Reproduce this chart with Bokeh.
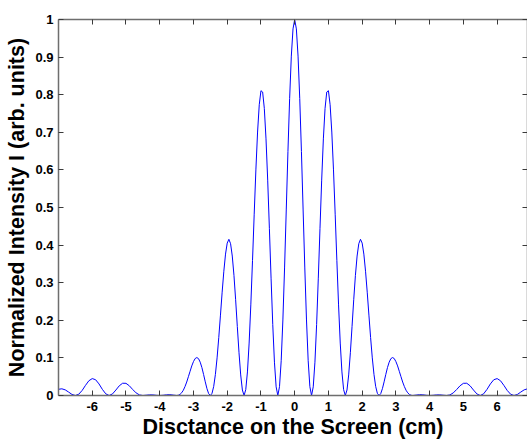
from bokeh.plotting import figure
from bokeh.models import Range1d, FixedTicker, LinearAxis, CustomLabelingPolicy
from bokeh.embed import file_html
from bokeh.resources import INLINE

# Distance on the screen (cm)
distance_cm = [
    -7.0, -6.9, -6.8, -6.7, -6.6, -6.5, -6.4, -6.3, -6.2, -6.1,
    -6.0, -5.9, -5.8, -5.7, -5.6, -5.5, -5.4, -5.3, -5.2, -5.1,
    -5.0, -4.9, -4.8, -4.7, -4.6, -4.5, -4.4, -4.3, -4.2, -4.1,
    -4.0, -3.9, -3.8, -3.7, -3.6,
    -3.5, -3.45, -3.4, -3.35, -3.3, -3.25, -3.2, -3.15, -3.1, -3.05,
    -3.0, -2.95, -2.9, -2.85, -2.8, -2.75, -2.7, -2.65, -2.6, -2.55,
    -2.5, -2.45, -2.4, -2.35, -2.3, -2.25, -2.2, -2.15, -2.1, -2.05,
    -2.0, -1.95, -1.9, -1.85, -1.8, -1.75, -1.7, -1.65, -1.6, -1.55,
    -1.5, -1.45, -1.4, -1.35, -1.3, -1.25, -1.2, -1.15, -1.1, -1.05,
    -1.0, -0.95, -0.9, -0.85, -0.8, -0.75, -0.7, -0.65, -0.6, -0.55,
    -0.5, -0.45, -0.4, -0.35, -0.3, -0.25, -0.2, -0.15, -0.1, -0.05,
    0.0, 0.05, 0.1, 0.15, 0.2, 0.25, 0.3, 0.35, 0.4, 0.45,
    0.5, 0.55, 0.6, 0.65, 0.7, 0.75, 0.8, 0.85, 0.9, 0.95,
    1.0, 1.05, 1.1, 1.15, 1.2, 1.25, 1.3, 1.35, 1.4, 1.45,
    1.5, 1.55, 1.6, 1.65, 1.7, 1.75, 1.8, 1.85, 1.9, 1.95,
    2.0, 2.05, 2.1, 2.15, 2.2, 2.25, 2.3, 2.35, 2.4, 2.45,
    2.5, 2.55, 2.6, 2.65, 2.7, 2.75, 2.8, 2.85, 2.9, 2.95,
    3.0, 3.05, 3.1, 3.15, 3.2, 3.25, 3.3, 3.35, 3.4, 3.45,
    3.5,
    3.6, 3.7, 3.8, 3.9, 4.0, 4.1, 4.2, 4.3, 4.4, 4.5,
    4.6, 4.7, 4.8, 4.9, 5.0, 5.1, 5.2, 5.3, 5.4, 5.5,
    5.6, 5.7, 5.8, 5.9, 6.0, 6.1, 6.2, 6.3, 6.4, 6.5,
    6.6, 6.7, 6.8, 6.9, 7.0,
]

# Normalized intensity (arb. units)
intensity = [
    0.0165, 0.0178, 0.0150, 0.0091, 0.0028, 0.0, 0.0034, 0.0133, 0.0269, 0.0392,
    0.0450, 0.0419, 0.0308, 0.0163, 0.0045, 0.0, 0.0042, 0.0145, 0.0257, 0.0326,
    0.0324, 0.0258, 0.0159, 0.0069, 0.0015, 0.0, 0.0008, 0.0017, 0.0015, 0.0005,
    0.0, 0.0006, 0.0018, 0.0022, 0.0011,
    0.0, 0.0006, 0.0028, 0.0072, 0.0140, 0.0239, 0.0358, 0.0500, 0.0644, 0.0787,
    0.0901, 0.0983, 0.1009, 0.0980, 0.0886, 0.0743, 0.0559, 0.0363, 0.0182, 0.0050,
    0.0, 0.0058, 0.0243, 0.0561, 0.1001, 0.1541, 0.2138, 0.2748, 0.3305, 0.3760,
    0.4053, 0.4154, 0.4037, 0.3709, 0.3195, 0.2547, 0.1833, 0.1137, 0.0547, 0.0146,
    0.0, 0.0156, 0.0627, 0.1395, 0.2410, 0.3586, 0.4822, 0.6000, 0.7007, 0.7733,
    0.8106, 0.8071, 0.7636, 0.6825, 0.5728, 0.4446, 0.3121, 0.1887, 0.0886, 0.0230,
    0.0, 0.0235, 0.0924, 0.2009, 0.3392, 0.4934, 0.6491, 0.7898, 0.9026, 0.9750,
    1.0, 0.9750, 0.9026, 0.7898, 0.6491, 0.4934, 0.3392, 0.2009, 0.0924, 0.0235,
    0.0, 0.0230, 0.0886, 0.1887, 0.3121, 0.4446, 0.5728, 0.6825, 0.7636, 0.8071,
    0.8106, 0.7733, 0.7007, 0.6000, 0.4822, 0.3586, 0.2410, 0.1395, 0.0627, 0.0156,
    0.0, 0.0146, 0.0547, 0.1137, 0.1833, 0.2547, 0.3195, 0.3709, 0.4037, 0.4154,
    0.4053, 0.3760, 0.3305, 0.2748, 0.2138, 0.1541, 0.1001, 0.0561, 0.0243, 0.0058,
    0.0, 0.0050, 0.0182, 0.0363, 0.0559, 0.0743, 0.0886, 0.0980, 0.1009, 0.0983,
    0.0901, 0.0787, 0.0644, 0.0500, 0.0358, 0.0239, 0.0140, 0.0072, 0.0028, 0.0006,
    0.0,
    0.0011, 0.0022, 0.0018, 0.0006, 0.0, 0.0005, 0.0015, 0.0017, 0.0008, 0.0,
    0.0015, 0.0069, 0.0159, 0.0258, 0.0324, 0.0326, 0.0257, 0.0145, 0.0042, 0.0,
    0.0045, 0.0163, 0.0308, 0.0419, 0.0450, 0.0392, 0.0269, 0.0133, 0.0034, 0.0,
    0.0028, 0.0091, 0.0150, 0.0178, 0.0165,
]

x_ticks = [-6, -5, -4, -3, -2, -1, 0, 1, 2, 3, 4, 5, 6]
x_tick_labels = ["-6", "-5", "-4", "-3", "-2", "-1", "0", "1", "2", "3", "4", "5", "6"]
y_ticks = [0, 0.1, 0.2, 0.3, 0.4, 0.5, 0.6, 0.7, 0.8, 0.9, 1]
y_tick_labels = ["0", "0.1", "0.2", "0.3", "0.4", "0.5", "0.6", "0.7", "0.8", "0.9", "1"]

FONT = "Liberation Sans"
AXIS_COLOR = "#6e6e6e"
TICK_COLOR = "#3a3a3a"

p = figure(
    width=527, height=441,
    x_range=Range1d(-7, 6.9), y_range=Range1d(0, 1),
    output_backend="svg", toolbar_location=None,
    min_border_left=58, min_border_top=19, min_border_right=0, min_border_bottom=44,
    x_axis_label="Disctance on the Screen (cm)",
    y_axis_label="Normalized Intensity I (arb. units)",
)
p.outline_line_color = None
p.xgrid.visible = False
p.ygrid.visible = False
p.background_fill_color = "white"
p.border_fill_color = "white"

p.line(distance_cm, intensity, line_color="#0000ff", line_width=1)

hide_labels = CustomLabelingPolicy(code="""
try { for (const i of Array.from(indices)) { indices.unset(i) } } catch (e) {}
return indices
""")

def style_axis(ax, labels=True):
    ax.axis_line_color = AXIS_COLOR
    ax.axis_line_width = 1.5
    ax.major_tick_line_color = TICK_COLOR
    ax.major_tick_line_width = 1
    ax.major_tick_in = 5
    ax.major_tick_out = 0
    ax.minor_tick_line_color = None
    ax.major_label_text_font = FONT
    ax.major_label_text_font_style = "bold"
    ax.major_label_text_font_size = "13px"
    ax.major_label_text_color = "black"
    ax.axis_label_text_font = FONT
    ax.axis_label_text_font_style = "bold"
    ax.axis_label_text_font_size = "21.5px"
    ax.axis_label_text_color = "black"
    if not labels:
        ax.major_label_policy = hide_labels
        ax.major_label_text_font_size = "0px"
        ax.major_label_standoff = 0

xa = p.xaxis[0]
style_axis(xa)
xa.ticker = FixedTicker(ticks=x_ticks)
xa.major_label_overrides = {t: s for t, s in zip(x_ticks, x_tick_labels)}
xa.major_label_standoff = 6
xa.axis_label_standoff = 1

ya = p.yaxis[0]
style_axis(ya)
ya.ticker = FixedTicker(ticks=y_ticks)
ya.major_label_overrides = {t: s for t, s in zip(y_ticks, y_tick_labels)}
ya.major_label_standoff = 5
ya.axis_label_standoff = 3

top = LinearAxis(ticker=FixedTicker(ticks=x_ticks))
style_axis(top, labels=False)
p.add_layout(top, "above")

right = LinearAxis(ticker=FixedTicker(ticks=y_ticks))
style_axis(right, labels=False)
p.add_layout(right, "right")

open("out.html", "w").write(file_html(p, INLINE))
